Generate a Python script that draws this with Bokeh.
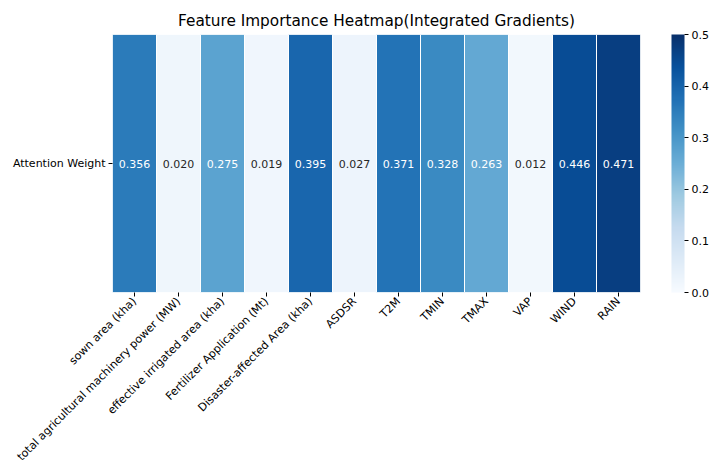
from bokeh.plotting import figure
from bokeh.models import (ColumnDataSource, LinearColorMapper, ColorBar, FixedTicker, FactorRange,
                          PrintfTickFormatter, GlobalInlineStyleSheet)
from bokeh.palettes import Blues256
from bokeh.embed import file_html
from bokeh.resources import INLINE
from bokeh.core.properties import value
import math

title = "Feature Importance Heatmap(Integrated Gradients)"
features = ["sown area (kha)", "total agricultural machinery power (MW)",
            "effective irrigated area (kha)", "Fertilizer Application (Mt)",
            "Disaster-affected Area (kha)", "ASDSR", "T2M", "TMIN", "TMAX",
            "VAP", "WIND", "RAIN"]
row_label = ["Attention Weight"]
weights = [0.356, 0.020, 0.275, 0.019, 0.395, 0.027, 0.371, 0.328, 0.263, 0.012, 0.446, 0.471]
cbar_ticks = [0.0, 0.1, 0.2, 0.3, 0.4, 0.5]

FONT = "DejaVu Sans"
palette = list(Blues256)[::-1]
mapper = LinearColorMapper(palette=palette, low=0.0, high=0.5)

src = ColumnDataSource(dict(
    x=features,
    y=row_label * len(features),
    w=weights,
    lab=["%.3f" % v for v in weights],
    tc=["white" if v > 0.2 else "#262626" for v in weights],
))

p = figure(frame_width=528, frame_height=258, x_range=FactorRange(*features), y_range=FactorRange(*row_label),
           output_backend="svg", toolbar_location=None, title=title,
           min_border_left=112, min_border_right=71, min_border_top=34, min_border_bottom=160)
p.stylesheets = [GlobalInlineStyleSheet(css="html, body { overflow: hidden; margin: 0; }")]
p.rect(x="x", y="y", width=1, height=1, source=src,
       fill_color={"field": "w", "transform": mapper}, line_color="white", line_width=1)
p.text(x="x", y="y", text="lab", source=src, text_color="tc", text_align="center",
       text_baseline="middle", text_font=value(FONT), text_font_size="11px")

p.title.align = "center"
p.title.text_font = FONT
p.title.text_font_size = "15.3px"
p.title.text_font_style = "normal"
p.title.text_color = "black"
p.title.offset = 0

p.outline_line_color = None
p.grid.visible = False
for ax in (p.xaxis[0], p.yaxis[0]):
    ax.axis_line_color = None
    ax.major_tick_in = 0
    ax.major_tick_out = 4
    ax.major_tick_line_color = "black"
    ax.minor_tick_line_color = None
    ax.major_label_text_font = FONT
    ax.major_label_text_font_size = "11px"
    ax.major_label_text_color = "black"
    ax.major_label_standoff = 3
p.xaxis.major_label_orientation = math.pi / 4
p.xaxis.major_label_text_font_size = "11.1px"

cb = ColorBar(color_mapper=mapper, ticker=FixedTicker(ticks=cbar_ticks), width=13, height=258,
              padding=0, margin=0, location=(31, 0), bar_line_color=None,
              major_tick_out=4, major_tick_in=0, major_tick_line_color="black",
              major_label_text_font=FONT, major_label_text_font_size="11px",
              major_label_text_color="black", label_standoff=3,
              formatter=PrintfTickFormatter(format="%.1f"))
p.add_layout(cb, "right")

open("out.html", "w").write(file_html(p, INLINE))
